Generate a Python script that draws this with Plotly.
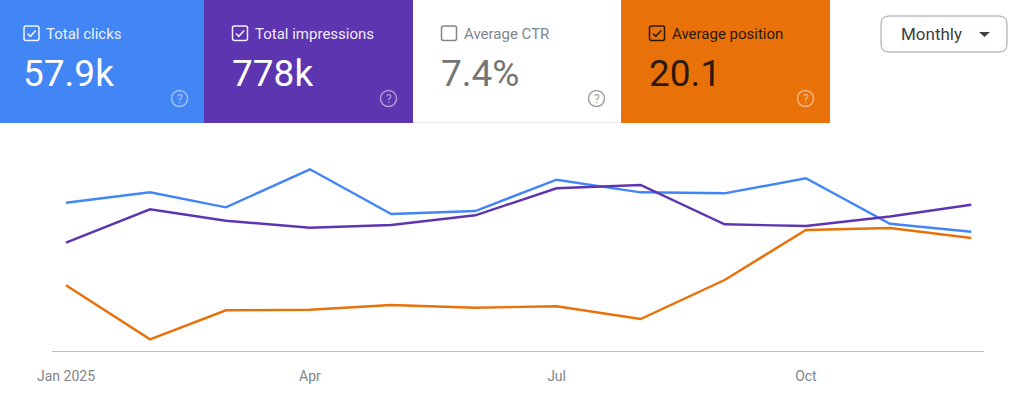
import plotly.graph_objects as go

# Monthly Search Console style metrics
months = ["2025-01-01", "2025-02-01", "2025-03-01", "2025-04-01", "2025-05-01", "2025-06-01",
          "2025-07-01", "2025-08-01", "2025-09-01", "2025-10-01", "2025-11-01", "2025-12-01"]
clicks = [4728, 5059, 4581, 5793, 4368, 4463, 5461, 5059, 5027, 5506, 4058, 3803]
impressions = [51800, 67780, 62320, 58970, 60270, 64900, 77820, 79400, 60600, 59790, 64330, 69970]
position = [19.81, 25.21, 22.31, 22.25, 21.78, 22.05, 21.91, 23.18, 19.28, 14.28, 14.08, 15.08]

tick_dates = ["2025-01-01", "2025-04-01", "2025-07-01", "2025-10-01"]
tick_labels = ["Jan 2025", "Apr", "Jul", "Oct"]

card_titles = ["Total clicks", "Total impressions", "Average CTR", "Average position"]
card_values = ["57.9k", "778k", "7.4%", "20.1"]
card_checked = [True, True, False, True]

BLUE = "#4285f4"
PURPLE = "#5e35b1"
ORANGE = "#e8710a"
W, H = 1024, 406
FONT = "Roboto"


def px(x):
    return x / W


def py(y):
    return 1 - y / H


def rounded_rect(x0, y0, x1, y1, r):
    a, b, c, d = px(x0), py(y0), px(x1), py(y1)
    rx, ry = r / W, r / H
    return (f"M{a + rx},{b} L{c - rx},{b} Q{c},{b} {c},{b - ry} L{c},{d + ry} Q{c},{d} {c - rx},{d} "
            f"L{a + rx},{d} Q{a},{d} {a},{d + ry} L{a},{b - ry} Q{a},{b} {a + rx},{b} Z")


# Card geometry: left, right, background, text, value, box, help icon colours
cards = [
    (0, 204, BLUE, "rgba(255,255,255,0.92)", "#ffffff", "rgba(255,255,255,0.92)", "rgba(255,255,255,0.5)"),
    (204, 413, PURPLE, "rgba(255,255,255,0.92)", "#ffffff", "rgba(255,255,255,0.92)", "rgba(255,255,255,0.5)"),
    (413, 621, "#ffffff", "#80868b", "#757575", "#80868b", "#9e9e9e"),
    (621, 830, ORANGE, "#2b1a0c", "#2b1a0c", "#2b1a0c", "rgba(255,255,255,0.5)"),
]

shapes = []
annotations = []
# Hairline below the white card
shapes.append(dict(type="line", xref="paper", yref="paper", x0=px(413), x1=px(621), y0=py(122.5), y1=py(122.5),
                   line=dict(color="#e8eaed", width=1), layer="below"))

for (x0, x1, bg, txt, val, box, hlp), title, value, checked in zip(cards, card_titles, card_values, card_checked):
    if bg != "#ffffff":
        shapes.append(dict(type="rect", xref="paper", yref="paper", x0=px(x0), x1=px(x1), y0=py(123), y1=py(0),
                           fillcolor=bg, line=dict(width=0), layer="below"))
    bx = x0 + 24 if x0 == 0 else x0 + 28.5
    shapes.append(dict(type="path", xref="paper", yref="paper", path=rounded_rect(bx, 26, bx + 15, 40.5, 2),
                       line=dict(color=box, width=1.5)))
    if checked:
        mark = f"M{px(bx + 3.5)},{py(33.5)} L{px(bx + 6.3)},{py(36.3)} L{px(bx + 11.7)},{py(30.5)}"
        shapes.append(dict(type="path", xref="paper", yref="paper", path=mark, line=dict(color=box, width=1.5)))
    annotations.append(dict(xref="paper", yref="paper", x=px(bx + 20), y=py(34), text=title, showarrow=False,
                            xanchor="left", yanchor="middle", font=dict(family=FONT, size=15, color=txt)))
    annotations.append(dict(xref="paper", yref="paper", x=px(bx - 3), y=py(73), text=value, showarrow=False,
                            xanchor="left", yanchor="middle", font=dict(family=FONT, size=37, color=val)))
    hx = x1 - 24.5
    shapes.append(dict(type="circle", xref="paper", yref="paper", x0=px(hx - 8), x1=px(hx + 8), y0=py(106.5),
                       y1=py(90.5), line=dict(color=hlp, width=1.5)))
    annotations.append(dict(xref="paper", yref="paper", x=px(hx), y=py(98.5), text="?", showarrow=False,
                            xanchor="center", yanchor="middle", font=dict(family=FONT, size=12, color=hlp)))

# Period selector
shapes.append(dict(type="path", xref="paper", yref="paper", path=rounded_rect(881, 16, 1007, 52, 8),
                   line=dict(color="#9aa0a6", width=1)))
shapes.append(dict(type="path", xref="paper", yref="paper",
                   path=f"M{px(979)},{py(32)} L{px(990)},{py(32)} L{px(984.5)},{py(37)} Z",
                   fillcolor="#3c4043", line=dict(width=0)))
annotations.append(dict(xref="paper", yref="paper", x=px(899), y=py(34), text="Monthly", showarrow=False,
                        xanchor="left", yanchor="middle", font=dict(family=FONT, size=17, color="#3c4043")))

fig = go.Figure()
fig.add_trace(go.Scatter(x=months, y=clicks, mode="lines", name="Total clicks",
                         line=dict(color=BLUE, width=2.4), yaxis="y"))
fig.add_trace(go.Scatter(x=months, y=impressions, mode="lines", name="Total impressions",
                         line=dict(color=PURPLE, width=2.4), yaxis="y2"))
fig.add_trace(go.Scatter(x=months, y=position, mode="lines", name="Average position",
                         line=dict(color=ORANGE, width=2.4), yaxis="y3"))

y_domain = [py(351), py(141)]
fig.update_layout(
    width=W, height=H, autosize=False,
    margin=dict(l=0, r=0, t=0, b=0),
    paper_bgcolor="#ffffff", plot_bgcolor="#ffffff",
    showlegend=False,
    font=dict(family=FONT),
    xaxis=dict(domain=[px(52), px(984)], type="date", range=["2024-12-26 20:00", "2025-12-05 17:00"],
               tickvals=tick_dates, ticktext=tick_labels, showgrid=False, zeroline=False, automargin=False,
               showline=True, linecolor="#bdbdbd", linewidth=1,
               ticks="outside", ticklen=12, tickcolor="rgba(0,0,0,0)",
               tickfont=dict(family=FONT, size=14, color="#80868b")),
    yaxis=dict(domain=y_domain, range=[0, 6695], visible=False, automargin=False),
    yaxis2=dict(domain=y_domain, range=[0, 100443], visible=False, overlaying="y", automargin=False),
    yaxis3=dict(domain=y_domain, range=[26.38, 5.38], visible=False, overlaying="y", automargin=False),
    shapes=shapes,
    annotations=annotations,
)

fig.write_html("out.html", config=dict(displayModeBar=False))
